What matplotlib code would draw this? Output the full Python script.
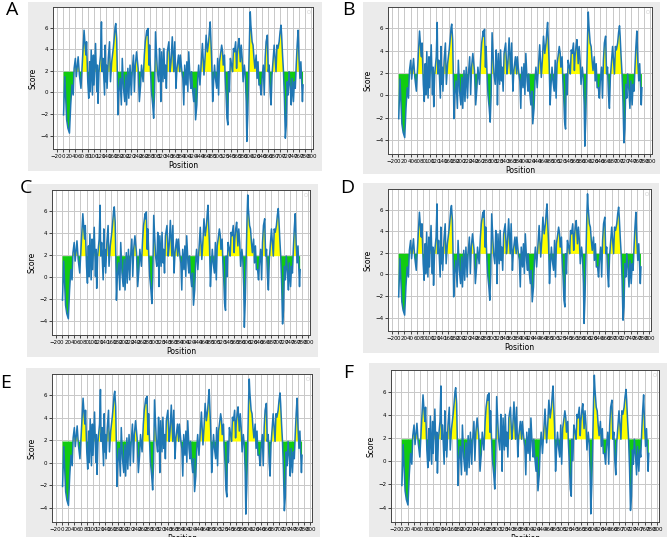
import matplotlib
matplotlib.use("Agg")
import matplotlib.pyplot as plt
from matplotlib.patches import Rectangle

# residue position / score
positions = [2, 6, 12, 16, 21, 25, 29, 33, 36, 40, 43, 49, 53, 58, 60, 62, 64, 68, 72, 74,
             76, 78, 80, 83, 86, 88, 91, 95, 98, 100, 105, 109, 111, 113, 116, 121, 124, 126, 129, 134,
             136, 138, 140, 142, 146, 150, 153, 157, 162, 165, 168, 170, 173, 175, 177, 180, 184, 188, 191, 195,
             199, 202, 205, 209, 212, 216, 220, 223, 227, 230, 233, 237, 242, 246, 250, 253, 258, 262, 265, 270,
             272, 274, 277, 279, 282, 285, 289, 292, 295, 298, 301, 304, 308, 311, 313, 315, 318, 322, 325, 328,
             330, 333, 336, 341, 345, 348, 352, 357, 360, 364, 367, 372, 376, 378, 383, 386, 389, 392, 396, 399,
             402, 405, 409, 412, 414, 417, 421, 424, 427, 431, 434, 437, 441, 446, 449, 452, 454, 458, 461, 465,
             469, 472, 474, 476, 479, 482, 485, 488, 491, 495, 498, 501, 504, 507, 511, 514, 516, 520, 522, 525,
             528, 531, 533, 536, 539, 543, 546, 549, 552, 556, 559, 561, 564, 567, 571, 574, 577, 580, 584, 587,
             590, 592, 595, 598, 601, 603, 605, 609, 612, 615, 618, 622, 625, 628, 631, 635, 638, 641, 645, 648,
             651, 654, 658, 661, 664, 667, 670, 673, 676, 680, 683, 686, 689, 692, 696, 699, 702, 704, 707, 710,
             713, 716, 719, 722, 725, 728, 732, 735, 738, 742, 745, 748, 751, 754, 757, 760, 763, 766, 769, 771,
             773]
scores = [-2.09, 1.45, -2.55, -3.32, -3.78, -1.17, 0.68, -0.25, 2.22, 3.14, 1.45, 3.29, 1.6, 0.37, 1.45, 2.52, 3.75, 5.75, 4.06, 3.45,
          4.68, 2.83, 0.98, -0.55, 2.83, 0.06, 3.91, -0.25, 3.45, 0.68, 4.52, 0.06, 2.52, -1.02, 1.9, 3.45, 6.52, 1.91, 3.14, -0.25,
          4.37, 0.98, 2.52, 0.37, 3.14, 4.68, 0.98, 2.83, 4.06, 5.0, 6.06, 6.37, 4.98, 1.91, -2.09, 0.06, 1.29, -1.17, 3.14, 0.37,
          -0.86, 1.6, -1.17, 2.22, -0.55, 2.52, -0.25, 1.91, 3.45, 0.06, 2.52, 3.75, 2.22, -0.86, 0.68, 2.52, 0.98, 3.45, 4.68, 5.75,
          5.29, 5.91, 2.52, 4.37, 1.91, 0.06, -1.17, -2.4, 0.06, 5.6, 3.75, 1.91, 0.98, 4.06, 2.83, -0.86, 3.75, 0.98, 4.06, 1.29,
          2.52, 0.37, 3.75, 4.68, 1.91, 2.83, 5.14, 1.91, 4.68, 0.37, 2.22, 3.45, 1.91, 3.45, 1.91, 1.29, -1.17, 2.52, 0.68, 2.83,
          0.06, 3.75, 1.29, 0.37, 1.91, 0.37, -0.86, 0.37, -2.55, -1.17, 1.29, 2.52, 0.68, 3.14, 4.52, 2.83, 1.6, 3.45, 5.29, 3.75,
          4.68, 5.91, 6.52, 4.98, 2.83, -0.86, 0.98, 2.52, 1.29, 0.37, 3.14, -0.25, 2.83, 3.45, 4.37, 3.75, 2.52, 3.45, 1.6, -0.09,
          -2.4, -3.02, 1.91, 0.06, 3.14, 2.52, 1.91, 4.06, 3.75, 4.68, 2.22, 3.45, 4.37, 4.98, 2.83, 4.37, 3.14, 0.98, 2.52, 1.6,
          -0.86, -4.55, -2.09, 1.91, 5.6, 7.45, 6.22, 4.68, 4.37, 3.14, 2.22, 3.45, 1.29, 2.83, 0.68, 0.68, -0.25, 1.29, 2.52, -0.25,
          3.14, 4.68, 5.29, 1.91, 2.52, 0.06, -1.17, 1.6, 2.83, 4.37, 3.14, 1.91, 4.37, 4.06, 4.68, 5.6, 6.22, 5.29, 3.45, 1.91,
          -0.55, -4.25, -3.02, 0.98, -0.25, 1.91, 0.37, -1.17, 1.29, -0.86, 0.98, 0.37, 2.52, 4.37, 5.75, 3.14, 1.29, 2.83, 0.68, -0.86,
          0.68]
threshold = 1.9
xticks = list(range(-20, 801, 20))
yticks = [-4, -2, 0, 2, 4, 6]
labels = ["A", "B", "C", "D", "E", "F"]

W, H = 668, 537
# pixel boxes: gray panel, axes, letter position
panels = [
    ((28, 2, 322, 171), (53, 7, 313, 149), (6, 1)),
    ((363, 2, 660, 174), (388, 7, 652, 154), (342, 1)),
    ((27, 184, 318, 357), (52, 190, 310, 335), (20, 179)),
    ((363, 183, 659, 353), (388, 189, 651, 331), (340, 179)),
    ((26, 368, 320, 545), (52, 374, 312, 522), (0, 374)),
    ((369, 363, 667, 545), (391, 370, 659, 522), (343, 364)),
]

fig = plt.figure(figsize=(W / 100, H / 100), dpi=100)
fig.patch.set_facecolor("white")


def box(x0, y0, x1, y1):
    return [x0 / W, 1 - y1 / H, (x1 - x0) / W, (y1 - y0) / H]


for (gray, ax_px, let), lab in zip(panels, labels):
    g = box(*gray)
    fig.patches.append(Rectangle((g[0], g[1]), g[2], g[3], transform=fig.transFigure,
                                 facecolor="#ebebeb", edgecolor="none", zorder=-5))
    ax = fig.add_axes(box(*ax_px))
    ax.set_zorder(1)
    ax.fill_between(positions, scores, threshold, where=[s >= threshold for s in scores],
                    interpolate=True, color="#ffff00", linewidth=0)
    ax.fill_between(positions, scores, threshold, where=[s <= threshold for s in scores],
                    interpolate=True, color="#11cc11", linewidth=0)
    ax.plot(positions, scores, color="#1f77b4", linewidth=1.1)
    ax.set_xlim(-32, 805)
    ax.set_ylim(-5.25, 7.9)
    ax.set_xticks(xticks)
    ax.set_yticks(yticks)
    ax.tick_params(labelsize=4, length=2, width=0.5, pad=1.5)
    ax.grid(True, color="#c8c8c8", linewidth=0.7)
    ax.set_axisbelow(True)
    for sp in ax.spines.values():
        sp.set_linewidth(0.7)
        sp.set_color("#444444")
    ax.set_xlabel("Position", fontsize=5.5, labelpad=1.5)
    ax.set_ylabel("Score", fontsize=5.5, labelpad=2)
    leg = ax.legend(handles=[], loc="upper right", frameon=True, borderpad=0.3, fontsize=4)
    leg.get_frame().set_linewidth(0.4)
    fig.text(let[0] / W, 1 - let[1] / H, lab, fontsize=14, family="Open Sans",
             ha="left", va="top", zorder=3)

fig.savefig("out.png", dpi=100, facecolor="white")
